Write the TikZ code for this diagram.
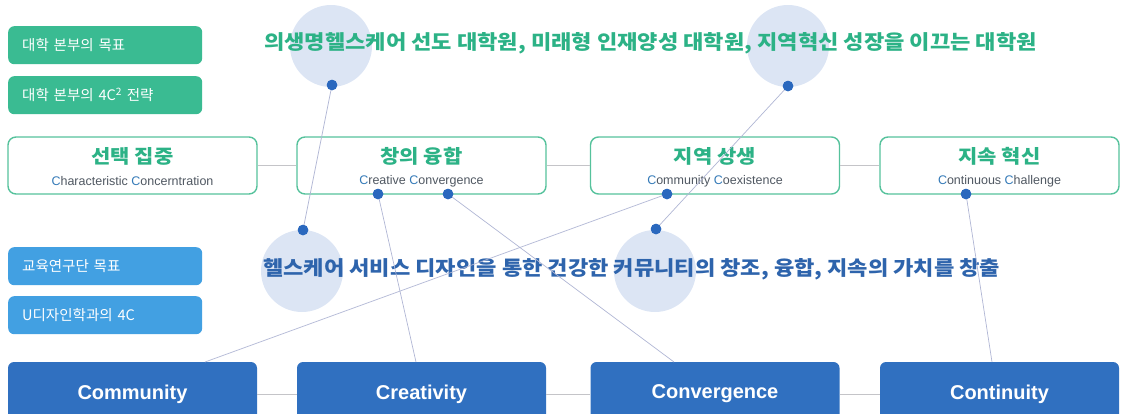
\documentclass[tikz,border=0pt]{standalone}
\usepackage{fontspec}
\setmainfont{Liberation Sans}
\newfontfamily\kr{Noto Sans CJK KR}
\newcommand\widetxt[1]{\scalebox{1.105}[1]{#1}}
\definecolor{gbox}{RGB}{58,187,146}
\definecolor{gtext}{RGB}{44,178,134}
\definecolor{gline}{RGB}{86,194,156}
\definecolor{lbbox}{RGB}{66,160,226}
\definecolor{btext}{RGB}{46,100,172}
\definecolor{bbox}{RGB}{48,112,192}
\definecolor{halo}{RGB}{220,229,244}
\definecolor{dotc}{RGB}{42,104,190}
\definecolor{conn}{RGB}{176,182,212}
\definecolor{hline}{RGB}{196,196,200}
\definecolor{subgray}{RGB}{80,88,98}
\definecolor{cblue}{RGB}{52,122,184}
\begin{document}
\begin{tikzpicture}[x=1pt,y=-1pt,
  lbox/.style={rectangle, rounded corners=6pt, minimum width=194pt, minimum height=38pt,
    inner xsep=14pt, inner ysep=0pt, text width=166pt, align=left, text=white,
    anchor=north west, font=\kr\fontsize{14.5}{16}\selectfont},
  mbox/.style={rectangle, rounded corners=8pt, draw=gline, line width=1.4pt, fill=white,
    minimum width=249pt, minimum height=57pt},
  mtitle/.style={text=gtext, font=\kr\bfseries\fontsize{19}{22}\selectfont, inner sep=0pt},
  msub/.style={text=subgray, font=\fontsize{12.5}{14}\selectfont, inner sep=0pt},
  kbox/.style={rectangle, rounded corners=6pt, fill=bbox, minimum width=249pt, minimum height=64pt,
    text=white, font=\bfseries\fontsize{20}{22}\selectfont},
  halocirc/.style={circle, fill=halo, inner sep=0pt, minimum size=82pt},
  dotn/.style={circle, fill=dotc, inner sep=0pt, minimum size=10.5pt},
  connline/.style={draw=conn, line width=0.7pt},
  hl/.style={draw=hline, line width=1pt}
]
\useasboundingbox (0,0) rectangle (1122,413);

% halo circles
\node[halocirc] (h1) at (331,46) {};
\node[halocirc] (h2) at (788,46) {};
\node[halocirc] (h3) at (302,271) {};
\node[halocirc] (h4) at (655,271) {};

% left label boxes
\node[lbox, fill=gbox] (g1) at (8,26) {대학 본부의 목표};
\node[lbox, fill=gbox] (g2) at (8,76) {대학 본부의 4C\textsuperscript{2} 전략};
\node[lbox, fill=lbbox] (l1) at (8,247) {교육연구단 목표};
\node[lbox, fill=lbbox] (l2) at (8,296) {U디자인학과의 4C};

% headline texts
\node[anchor=west, inner sep=0pt, text=gtext, font=\kr\bfseries\fontsize{20}{22}\selectfont] (top) at (264,43)
  {\widetxt{의생명헬스케어 선도 대학원, 미래형 인재양성 대학원, 지역혁신 성장을 이끄는 대학원}};
\node[anchor=west, inner sep=0pt, text=btext, font=\kr\bfseries\fontsize{20}{22}\selectfont] (mid) at (263,269)
  {\widetxt{헬스케어 서비스 디자인을 통한 건강한 커뮤니티의 창조, 융합, 지속의 가치를 창출}};

% middle outlined boxes
\node[mbox] (b1) at (132.5,165.5) {};
\node[mbox] (b2) at (421.5,165.5) {};
\node[mbox] (b3) at (715,165.5) {};
\node[mbox, minimum width=239pt] (b4) at (999.5,165.5) {};
\draw[hl] (b1.east) -- (b2.west);
\draw[hl] (b2.east) -- (b3.west);
\draw[hl] (b3.east) -- (b4.west);

\node[mtitle] (b1t) at (132.5,156) {\widetxt{선택 집중}};
\node[mtitle] (b2t) at (421.5,156) {\widetxt{창의 융합}};
\node[mtitle] (b3t) at (715,156) {\widetxt{지역 상생}};
\node[mtitle] (b4t) at (999.5,156) {\widetxt{지속 혁신}};
\node[msub] (b1s) at (132.5,181) {{\color{cblue}C}haracteristic {\color{cblue}C}oncerntration};
\node[msub] (b2s) at (421.5,181) {{\color{cblue}C}reative {\color{cblue}C}onvergence};
\node[msub] (b3s) at (715,181) {{\color{cblue}C}ommunity {\color{cblue}C}oexistence};
\node[msub] (b4s) at (999.5,181) {{\color{cblue}C}ontinuous {\color{cblue}C}hallenge};

% bottom boxes
\node[kbox] (k1) at (132.5,394) {Community};
\node[kbox] (k2) at (421.5,394) {Creativity};
\node[kbox] (k3) at (715,394) {Convergence};
\node[kbox, minimum width=239pt] (k4) at (999.5,394) {Continuity};
\draw[hl] (k1.east) -- (k2.west);
\draw[hl] (k2.east) -- (k3.west);
\draw[hl] (k3.east) -- (k4.west);

% dots
\node[dotn] (ht1) at (332,85) {};
\node[dotn] (ht2) at (788,86) {};
\node[dotn] (hb1) at (303,230) {};
\node[dotn] (hb2) at (656,229) {};
\node[dotn] (d2a) at (378,194) {};
\node[dotn] (d2b) at (448,194) {};
\node[dotn] (d3) at (667,194) {};
\node[dotn] (d4) at (966,194) {};

\coordinate (k1t) at (205,362);
\coordinate (k2t) at (416,362);
\coordinate (k3t) at (674,362);
\coordinate (k4t) at (992,362);

% connectors
\draw[connline] (ht1.center) -- (hb1.center);
\draw[connline] (ht2.center) -- (hb2.center);
\draw[connline] (d2a.center) -- (k2t);
\draw[connline] (d2b.center) -- (k3t);
\draw[connline] (d3.center) -- (k1t);
\draw[connline] (d4.center) -- (k4t);

% dots on top of connectors
\foreach \n in {ht1,ht2,hb1,hb2,d2a,d2b,d3,d4}{
  \fill[dotc] (\n.center) circle (5.25pt);
}
\end{tikzpicture}
\end{document}
